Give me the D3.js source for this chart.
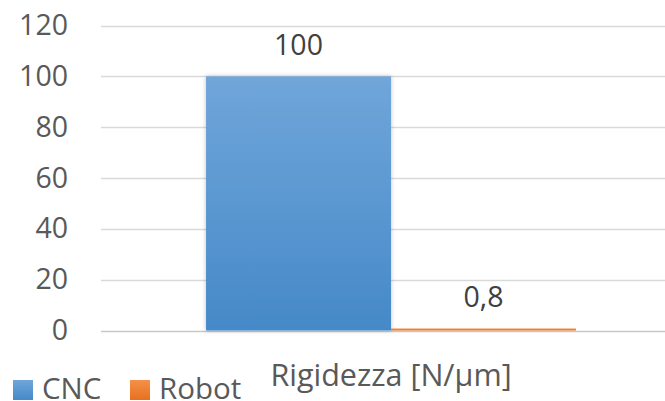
<!DOCTYPE html>
<html>
<head>
<meta charset="utf-8">
<script src="https://cdn.jsdelivr.net/npm/d3@7"></script>
<style>
  body { margin: 0; background: #fff; }
  text { font-family: "Segoe UI", "Open Sans", "Noto Sans", sans-serif; fill: #595959; }
</style>
</head>
<body>
<div id="chart"></div>
<script>
// data
var categories = ["Rigidezza [N/μm]"];
var seriesNames = ["CNC", "Robot"];
var seriesValues = [100, 0.8];
var valueLabels = ["100", "0,8"];
var yTicks = [0, 20, 40, 60, 80, 100, 120];
var seriesColors = [["#70a6da", "#4589c8"], ["#f4914a", "#e7701f"]];

var width = 665, height = 401;
var margin = { top: 25.5, right: -16, bottom: 70.5, left: 101 };

var svg = d3.select("#chart")
  .append("svg")
  .attr("width", width)
  .attr("height", height);

var defs = svg.append("defs");
seriesColors.forEach(function (c, i) {
  var g = defs.append("linearGradient")
    .attr("id", "grad" + i)
    .attr("x1", 0).attr("y1", 0).attr("x2", 0).attr("y2", 1);
  g.append("stop").attr("offset", "0%").attr("stop-color", c[0]);
  g.append("stop").attr("offset", "100%").attr("stop-color", c[1]);
});
var filt = defs.append("filter").attr("id", "shadow")
  .attr("x", "-10%").attr("y", "-10%").attr("width", "120%").attr("height", "120%");
filt.append("feDropShadow")
  .attr("dx", 0).attr("dy", 0).attr("stdDeviation", 2)
  .attr("flood-color", "#000").attr("flood-opacity", 0.25);

var x0 = d3.scaleBand()
  .domain(categories)
  .range([margin.left, width - margin.right])
  .paddingInner(0).paddingOuter(0.284);

var x1 = d3.scaleBand()
  .domain(seriesNames)
  .range([0, x0.bandwidth()])
  .padding(0);

var y = d3.scaleLinear()
  .domain([0, 120])
  .range([height - margin.bottom, margin.top]);

// gridlines
svg.append("g")
  .selectAll("line")
  .data(yTicks)
  .enter().append("line")
  .attr("x1", margin.left)
  .attr("x2", width)
  .attr("y1", function (d) { return Math.round(y(d)) + 0.5; })
  .attr("y2", function (d) { return Math.round(y(d)) + 0.5; })
  .attr("stroke", function (d) { return d === 0 ? "#c8c8c8" : "#d9d9d9"; })
  .attr("stroke-width", function (d) { return d === 0 ? 1.5 : 1.3; });

// y axis
var yAxis = svg.append("g")
  .attr("transform", "translate(" + 68 + ",0)")
  .call(d3.axisLeft(y).tickValues(yTicks).tickSize(0).tickPadding(0));
yAxis.select(".domain").remove();
yAxis.selectAll("text")
  .style("font-size", "28.5px")
  .style("fill", "#595959")
  .style("font-family", "'Segoe UI', 'Open Sans', 'Noto Sans', sans-serif");

// bars
var barGroup = svg.append("g");
seriesNames.forEach(function (s, i) {
  var bx = x0(categories[0]) + x1(s);
  barGroup.append("rect")
    .attr("x", bx)
    .attr("y", y(seriesValues[i]))
    .attr("width", x1.bandwidth())
    .attr("height", Math.max(y(0) - y(seriesValues[i]), 0))
    .attr("fill", "url(#grad" + i + ")")
    .attr("filter", i === 0 ? "url(#shadow)" : null);

  svg.append("text")
    .attr("x", bx + x1.bandwidth() / 2)
    .attr("y", y(seriesValues[i]) - 21)
    .attr("text-anchor", "middle")
    .style("font-size", "28.5px")
    .style("fill", "#404040")
    .text(valueLabels[i]);
});

// category label
svg.append("text")
  .attr("x", x0(categories[0]) + x0.bandwidth() / 2)
  .attr("y", 386)
  .attr("text-anchor", "middle")
  .style("font-size", "30.5px")
  .text(categories[0]);

// legend
var legendX = [13, 130];
seriesNames.forEach(function (s, i) {
  var lg = svg.append("g").attr("transform", "translate(" + legendX[i] + ",380)");
  lg.append("rect")
    .attr("width", 20).attr("height", 20)
    .attr("fill", "url(#grad" + i + ")");
  lg.append("text")
    .attr("x", 29)
    .attr("y", 19)
    .style("font-size", "29.5px")
    .text(s);
});
</script>
</body>
</html>
